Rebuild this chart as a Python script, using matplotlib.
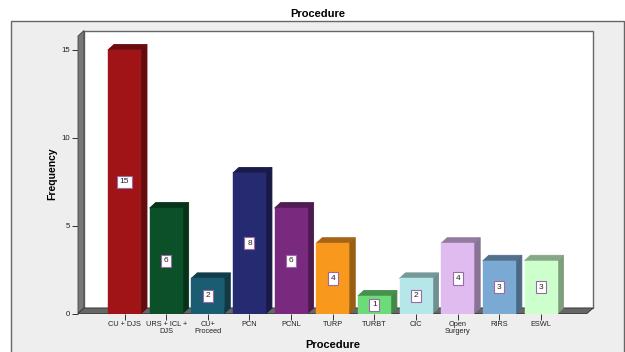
import matplotlib.pyplot as plt
from matplotlib.patches import Polygon, Rectangle
from matplotlib.colors import to_rgb

plt.rcParams['font.family'] = ['Liberation Sans', 'DejaVu Sans']

procedures = ['CU + DJS', 'URS + ICL +\nDJS', 'CU+\nProceed', 'PCN', 'PCNL', 'TURP',
              'TURBT', 'CIC', 'Open\nSurgery', 'RIRS', 'ESWL']
frequency = [15, 6, 2, 8, 6, 4, 1, 2, 4, 3, 3]
bar_colors = ['#a01418', '#0b5029', '#1a5c72', '#262a70', '#7a2a7e', '#f8981d',
              '#6cdc78', '#b5e6e8', '#dfbbf0', '#7aaad4', '#ccffcc']
y_ticks = [0, 5, 10, 15]

W, H = 625, 352
fig = plt.figure(figsize=(W / 100, H / 100), dpi=100, facecolor='white')

# outer chart frame, runs off the bottom edge
fig.patches.append(Rectangle((11 / W, -0.02), 613 / W, 1.02 - 21 / H, transform=fig.transFigure,
                             facecolor='#eeeeee', edgecolor='#666666', linewidth=1, zorder=-1))

# front plane of the 3d box: x in category units, y in counts
left, right, bottom, top = 78, 587, 313.5, 36
ax = fig.add_axes([left / W, 1 - bottom / H, (right - left) / W, (bottom - top) / H])
ax.patch.set_visible(False)
step = 41.65
x0 = -(124.5 - left) / step
x1 = x0 + (right - left) / step
y1 = (bottom - top) / 17.57
ax.set_xlim(x0, x1)
ax.set_ylim(0, y1)
for s in ax.spines.values():
    s.set_visible(False)

# depth offset of the box and the bars
dx = 6 / step
dy = 5.5 / 17.57


def poly(pts, color, edge=None, z=1, lw=0.6):
    ax.add_patch(Polygon(pts, closed=True, facecolor=color, edgecolor=edge or color,
                         linewidth=lw, zorder=z, clip_on=False))


def shade(color, f):
    return tuple(c * f for c in to_rgb(color))


# back wall, side wall, floor
poly([(x0 + dx, dy), (x1 + dx, dy), (x1 + dx, y1 + dy), (x0 + dx, y1 + dy)], 'white', '#666666', 1, 1.0)
poly([(x0, 0), (x0 + dx, dy), (x0 + dx, y1 + dy), (x0, y1)], '#777777', '#444444', 2)
poly([(x0, 0), (x1, 0), (x1 + dx, dy), (x0 + dx, dy)], '#666666', '#333333', 2)

# bars: side and top faces first, then the front
width = 33 / step
for i, (v, c) in enumerate(zip(frequency, bar_colors)):
    l, r = i - width / 2, i + width / 2
    poly([(r, 0), (r + dx, dy), (r + dx, v + dy), (r, v)], shade(c, 0.62), z=3)
    poly([(l, v), (r, v), (r + dx, v + dy), (l + dx, v + dy)], shade(c, 0.66), z=3)
    ax.bar(i, v, width=width, color=c, edgecolor=c, linewidth=0.3, zorder=4)
    ax.text(i, v / 2, str(v), ha='center', va='center', fontsize=6, color='#222222', zorder=5,
            bbox=dict(boxstyle='square,pad=0.32', facecolor='white', edgecolor='#9a6aa8', linewidth=0.8))

ax.set_xticks(range(len(procedures)))
ax.set_xticklabels(procedures, fontsize=5.3, color='#222222', linespacing=1.05)
ax.set_yticks(y_ticks)
ax.tick_params(axis='x', length=4, width=0.7, pad=1.5, color='#333333')
ax.tick_params(axis='y', length=4, width=0.7, pad=1.5, color='#333333', labelsize=5.6, labelcolor='#222222')

fig.text(318 / W, 1 - 14 / H, 'Procedure', ha='center', va='center', fontsize=8, fontweight='bold')
fig.text(333 / W, 1 - 345 / H, 'Procedure', ha='center', va='center', fontsize=8, fontweight='bold')
fig.text(52 / W, 1 - 174 / H, 'Frequency', ha='center', va='center', rotation=90, fontsize=7.5, fontweight='bold')

fig.savefig('out.png', dpi=100)
